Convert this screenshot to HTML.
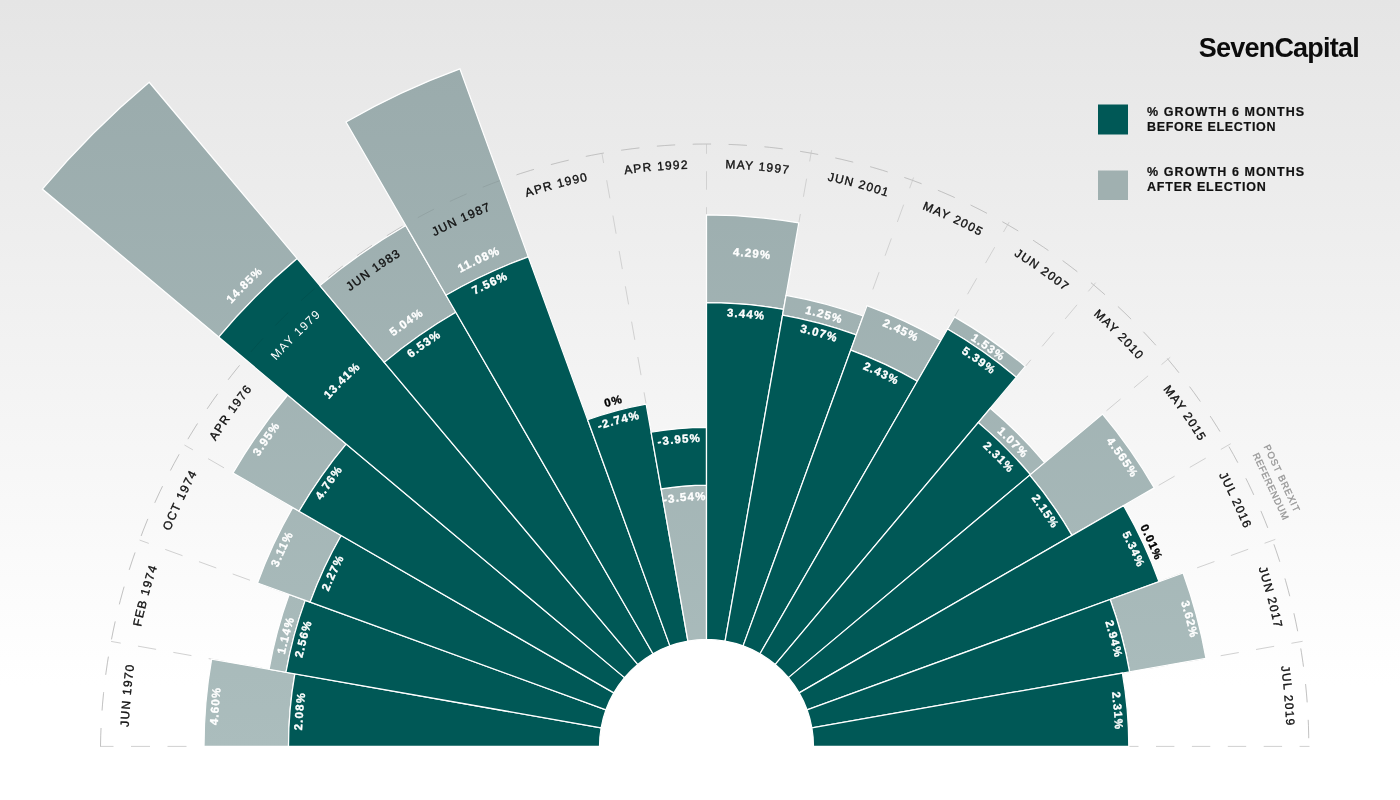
<!DOCTYPE html>
<html lang="en"><head><meta charset="utf-8"><title>SevenCapital - House price growth around elections</title>
<style>
html,body{margin:0;padding:0}
body{width:1400px;height:800px;overflow:hidden;background:#fff;font-family:"Liberation Sans",sans-serif}
.bg{position:absolute;left:0;top:0;width:1400px;height:800px;background:linear-gradient(to bottom,#e5e5e5 0px,#ffffff 685px)}
svg{position:absolute;left:0;top:0;display:block}
</style></head><body><div class="bg"></div>
<svg width="1400" height="800" viewBox="0 0 1400 800">
<defs><linearGradient id="gg" gradientUnits="userSpaceOnUse" x1="0" y1="60" x2="0" y2="750"><stop offset="0" stop-color="#9aabac"/><stop offset="1" stop-color="#abbdbd"/></linearGradient>
<path id="oa" d="M100.5 746.4 L100.73 735.83 L101.15 725.26 L101.75 714.71 L102.53 704.17 L103.5 693.64 L104.66 683.14 L105.99 672.67 L107.51 662.22 L109.21 651.8 L111.09 641.41 L113.14 631.06 L115.37 620.75 L117.78 610.48 L120.36 600.26 L123.13 590.09 L126.07 579.96 L129.19 569.9 L132.48 559.89 L135.95 549.94 L139.58 540.06 L143.32 530.21 L147.22 520.44 L151.3 510.73 L155.54 501.1 L159.95 491.54 L164.53 482.06 L169.27 472.67 L174.17 463.36 L179.24 454.13 L184.46 445 L189.81 435.94 L195.32 426.98 L200.98 418.11 L206.8 409.35 L212.76 400.68 L218.88 392.13 L225.15 383.68 L231.56 375.34 L238.12 367.11 L244.82 359 L251.66 351.01 L258.64 343.14 L265.75 335.4 L273 327.78 L280.38 320.28 L287.89 312.92 L295.53 305.69 L303.29 298.59 L311.18 291.63 L319.18 284.81 L327.3 278.13 L335.54 271.6 L343.89 265.2 L352.35 258.96 L360.92 252.86 L369.59 246.91 L378.37 241.12 L387.24 235.48 L396.21 230 L405.28 224.67 L414.44 219.5 L423.68 214.5 L433.01 209.65 L442.43 204.97 L451.92 200.46 L461.49 196.11 L471.14 191.93 L480.86 187.92 L490.64 184.07 L500.49 180.4 L510.41 176.91 L520.38 173.58 L530.41 170.43 L540.49 167.46 L550.62 164.66 L560.8 162.04 L571.03 159.6 L581.29 157.34 L591.59 155.25 L601.93 153.35 L612.29 151.59 L622.68 150.02 L633.1 148.63 L643.54 147.42 L654.01 146.39 L664.48 145.55 L674.98 144.89 L685.48 144.41 L695.99 144.11 L706.5 144 L717.01 144.09 L727.52 144.37 L738.03 144.83 L748.52 145.47 L759 146.3 L769.47 147.31 L779.91 148.5 L790.34 149.87 L800.73 151.43 L811.1 153.16 L821.44 155.08 L831.74 157.18 L842.01 159.45 L852.23 161.91 L862.41 164.54 L872.54 167.35 L882.62 170.34 L892.65 173.5 L902.62 176.84 L912.53 180.35 L922.37 184.03 L932.15 187.89 L941.87 191.91 L951.51 196.1 L961.07 200.47 L970.56 204.99 L979.97 209.68 L989.3 214.54 L998.53 219.56 L1007.68 224.74 L1016.74 230.07 L1025.7 235.57 L1034.57 241.22 L1043.34 247.02 L1052 252.97 L1060.56 259.08 L1069.01 265.33 L1077.35 271.74 L1085.58 278.28 L1093.69 284.97 L1101.68 291.8 L1109.55 298.76 L1117.3 305.87 L1124.93 313.1 L1132.43 320.47 L1139.79 327.97 L1147.03 335.6 L1154.13 343.35 L1161.1 351.23 L1167.92 359.22 L1174.61 367.33 L1181.15 375.56 L1187.55 383.9 L1193.8 392.35 L1199.91 400.91 L1205.86 409.58 L1211.66 418.34 L1217.31 427.21 L1222.8 436.17 L1228.14 445.23 L1233.31 454.38 L1238.33 463.62 L1243.18 472.95 L1247.87 482.36 L1252.39 491.85 L1256.75 501.41 L1260.94 511.05 L1264.97 520.77 L1268.82 530.55 L1272.5 540.39 L1276.01 550.3 L1279.34 560.27 L1282.5 570.3 L1285.49 580.38 L1288.29 590.51 L1290.92 600.69 L1293.38 610.91 L1295.65 621.17 L1297.75 631.47 L1299.66 641.81 L1301.39 652.18 L1302.95 662.57 L1304.32 673 L1305.51 683.44 L1306.51 693.91 L1307.34 704.39 L1307.98 714.88 L1308.44 725.38 L1308.71 735.89 L1308.8 746.4"/>
<path id="n0" d="M129.26 776.05 A578 578 0 0 1 143.45 615.79"/>
<path id="n1" d="M132.88 675.36 A578 578 0 0 1 174.68 520.01"/>
<path id="n2" d="M153.93 576.84 A578 578 0 0 1 222.08 431.1"/>
<path id="n3" d="M191.77 483.46 A578 578 0 0 1 284.19 351.77"/>
<path id="n4" d="M245.25 398.07 A578 578 0 0 1 359.13 284.43"/>
<path id="n5" d="M312.74 323.27 A578 578 0 0 1 444.63 231.13"/>
<path id="n6" d="M392.2 261.32 A578 578 0 0 1 538.08 193.48"/>
<path id="n7" d="M481.21 214.11 A578 578 0 0 1 636.66 172.64"/>
<path id="n8" d="M577.06 183.08 A578 578 0 0 1 737.35 169.22"/>
<path id="n9" d="M676.83 168.86 A578.3 578.3 0 0 1 837.17 183.06"/>
<path id="n10" d="M778.61 172.21 A578.7 578.7 0 0 1 934.09 214.33"/>
<path id="n11" d="M876.36 192.88 A579 579 0 0 1 1022.35 261.14"/>
<path id="n12" d="M970.92 230.97 A579.3 579.3 0 0 1 1102.75 323.82"/>
<path id="n13" d="M1055.73 283.95 A579.5 579.5 0 0 1 1169.67 398.13"/>
<path id="n14" d="M1131.56 352.22 A579.7 579.7 0 0 1 1223.74 484.65"/>
<path id="n15" d="M1193.17 431.07 A579.9 579.9 0 0 1 1261.24 577.43"/>
<path id="n16" d="M1241.3 521.67 A580.1 580.1 0 0 1 1282.53 677.79"/>
<path id="n17" d="M1271.87 616.49 A580.1 580.1 0 0 1 1285.77 777.36"/>
<path id="d0" d="M302.82 775.08 A404.7 404.7 0 0 1 313.71 648.93"/>
<path id="g0" d="M218.67 782.97 A489.2 489.2 0 0 1 231.24 630.43"/>
<path id="d1" d="M295.02 703.6 A413.7 413.7 0 0 1 328.38 578.54"/>
<path id="g1" d="M277.21 702.74 A431.5 431.5 0 0 1 311.72 572.22"/>
<path id="d2" d="M313.7 634.23 A408.5 408.5 0 0 1 367.59 518.34"/>
<path id="g2" d="M259.87 618.8 A464.5 464.5 0 0 1 321.16 487.03"/>
<path id="d3" d="M295.46 546.43 A457.1 457.1 0 0 1 377.38 429.2"/>
<path id="g3" d="M226.89 512.98 A533.4 533.4 0 0 1 322.49 376.19"/>
<path id="d4" d="M292.11 444.16 A512.9 512.9 0 0 1 405.79 330.9"/>
<path id="g4" d="M180.86 365.06 A649.4 649.4 0 0 1 324.43 221.29"/>
<path id="d5" d="M367.18 395.67 A488 488 0 0 1 492.17 307.99"/>
<path id="g5" d="M346.44 376.93 A515.9 515.9 0 0 1 478.23 283.75"/>
<path id="d6" d="M422.22 325.75 A507.7 507.7 0 0 1 566.13 258.49"/>
<path id="g6" d="M407.57 304.03 A533.9 533.9 0 0 1 558.9 233.31"/>
<path id="d7" d="M570.12 441.19 A334.3 334.3 0 0 1 671.11 413.98"/>
<path id="g7" d="M562.14 423.28 A353.9 353.9 0 0 1 669.06 394.49"/>
<path id="d8" d="M632.37 450.96 A304.6 304.6 0 0 1 727.3 442.51"/>
<path id="g8" d="M626.33 513.41 A246.4 246.4 0 0 1 745.09 503.04"/>
<path id="d9" d="M678.32 316.92 A430.4 430.4 0 0 1 812.42 329.24"/>
<path id="g9" d="M674.77 256.13 A491.3 491.3 0 0 1 827.83 270.32"/>
<path id="d10" d="M752.73 324.22 A424.7 424.7 0 0 1 880.93 359.17"/>
<path id="g10" d="M754.74 305.13 A443.9 443.9 0 0 1 888.74 341.63"/>
<path id="d11" d="M819.89 354.06 A408.4 408.4 0 0 1 935.58 408.3"/>
<path id="g11" d="M832.44 308.45 A455.7 455.7 0 0 1 961.61 368.8"/>
<path id="d12" d="M913.63 325.95 A468.7 468.7 0 0 1 1033.41 410.53"/>
<path id="g12" d="M920.73 311.39 A484.9 484.9 0 0 1 1044.67 398.88"/>
<path id="d13" d="M947.84 418.05 A407.5 407.5 0 0 1 1037.49 508.7"/>
<path id="g13" d="M959.54 401.27 A427.95 427.95 0 0 1 1053.8 496.36"/>
<path id="d14" d="M1001.78 463.83 A408.7 408.7 0 0 1 1074.64 568.9"/>
<path id="g14" d="M1069.47 398.46 A502.8 502.8 0 0 1 1159.22 527.65"/>
<path id="d15" d="M1094.53 486.9 A466.8 466.8 0 0 1 1155.72 619.51"/>
<path id="g15" d="M1111.03 477.22 A485.9 485.9 0 0 1 1174.41 615.4"/>
<path id="d16" d="M1088.84 578.2 A417.7 417.7 0 0 1 1122.1 704.58"/>
<path id="g16" d="M1160.48 546.85 A495.9 495.9 0 0 1 1199.92 696.9"/>
<path id="d17" d="M1103.48 647.99 A409 409 0 0 1 1114.46 775.48"/>
</defs>
<path d="M103.5 746.4 A603 603 0 0 1 1309.5 746.4 L813.5 746.4 A107.0 107.0 0 0 0 599.5 746.4 Z" fill="#fff" fill-opacity="0.03"/>
<path d="M599.5 746.4 A107.0 107.0 0 0 1 813.5 746.4 Z" fill="#fff"/>
<g fill="none" stroke="#d1d1d1" stroke-width="1" stroke-dasharray="18.4 17.5">
<use href="#oa"/>
<path d="M111.09 641.41 L601.13 727.82" stroke-dashoffset="8.6"/>
<path d="M139.58 540.06 L605.95 709.8" stroke-dashoffset="8.6"/>
<path d="M184.46 445 L613.84 692.9" stroke-dashoffset="8.6"/>
<path d="M244.82 359 L624.53 677.62" stroke-dashoffset="8.6"/>
<path d="M319.18 284.81 L637.72 664.43" stroke-dashoffset="8.6"/>
<path d="M405.28 224.67 L653 653.74" stroke-dashoffset="8.6"/>
<path d="M500.49 180.4 L669.9 645.85" stroke-dashoffset="8.6"/>
<path d="M601.93 153.35 L687.92 641.03" stroke-dashoffset="8.6"/>
<path d="M706.5 144 L706.5 639.4" stroke-dashoffset="8.6"/>
<path d="M811.62 150.21 L725.08 641.03" stroke-dashoffset="7"/>
<path d="M913.55 177.53 L743.1 645.85" stroke-dashoffset="7"/>
<path d="M1009.18 222.14 L760 653.74" stroke-dashoffset="7"/>
<path d="M1095.62 282.67 L775.28 664.43" stroke-dashoffset="7"/>
<path d="M1170.22 357.29 L788.47 677.62" stroke-dashoffset="7"/>
<path d="M1230.73 443.73 L799.16 692.9" stroke-dashoffset="7"/>
<path d="M1275.32 539.37 L807.05 709.8" stroke-dashoffset="7"/>
<path d="M1302.62 641.29 L811.87 727.82" stroke-dashoffset="7"/>
<path d="M1309.5 746.4 H1100" stroke-dashoffset="8.5"/>
<path d="M100 746.4 H230" stroke-dasharray="19 17.5" stroke-dashoffset="5.5"/>
</g>
<g stroke="#fff" stroke-width="1.25" stroke-linejoin="miter">
<path d="M288.5 746.4 L204 746.4 A502.5 502.5 0 0 1 211.63 659.14 L294.85 673.82 A418 418 0 0 0 288.5 746.4 Z" fill="url(#gg)"/>
<path d="M599.5 746.4 L288.5 746.4 A418 418 0 0 1 294.85 673.82 L601.13 727.82 A107 107 0 0 0 599.5 746.4 Z" fill="#005856"/>
<path d="M285.99 672.25 L269.05 669.27 A444.2 444.2 0 0 1 289.09 594.47 L305.25 600.36 A427 427 0 0 0 285.99 672.25 Z" fill="url(#gg)"/>
<path d="M601.13 727.82 L285.99 672.25 A427 427 0 0 1 305.25 600.36 L605.95 709.8 A107 107 0 0 0 601.13 727.82 Z" fill="#005856"/>
<path d="M310.14 602.14 L257.51 582.98 A477.8 477.8 0 0 1 292.71 507.5 L341.21 535.5 A421.8 421.8 0 0 0 310.14 602.14 Z" fill="url(#gg)"/>
<path d="M605.95 709.8 L310.14 602.14 A421.8 421.8 0 0 1 341.21 535.5 L613.84 692.9 A107 107 0 0 0 605.95 709.8 Z" fill="#005856"/>
<path d="M299.12 511.2 L233.04 473.05 A546.7 546.7 0 0 1 287.7 394.99 L346.15 444.03 A470.4 470.4 0 0 0 299.12 511.2 Z" fill="url(#gg)"/>
<path d="M613.84 692.9 L299.12 511.2 A470.4 470.4 0 0 1 346.15 444.03 L624.53 677.62 A107 107 0 0 0 613.84 692.9 Z" fill="#005856"/>
<path d="M218.68 337.07 L42.34 189.1 A867 867 0 0 1 149.2 82.24 L297.17 258.58 A636.8 636.8 0 0 0 218.68 337.07 Z" fill="url(#gg)"/>
<path d="M624.53 677.62 L218.68 337.07 A636.8 636.8 0 0 1 297.17 258.58 L637.72 664.43 A107 107 0 0 0 624.53 677.62 Z" fill="#005856"/>
<path d="M384.27 362.38 L319.86 285.62 A601.5 601.5 0 0 1 405.75 225.49 L455.85 312.26 A501.3 501.3 0 0 0 384.27 362.38 Z" fill="url(#gg)"/>
<path d="M637.72 664.43 L384.27 362.38 A501.3 501.3 0 0 1 455.85 312.26 L653 653.74 A107 107 0 0 0 637.72 664.43 Z" fill="#005856"/>
<path d="M446 295.2 L346 122 A721 721 0 0 1 459.9 68.88 L528.31 256.82 A521 521 0 0 0 446 295.2 Z" fill="url(#gg)"/>
<path d="M653 653.74 L446 295.2 A521 521 0 0 1 528.31 256.82 L669.9 645.85 A107 107 0 0 0 653 653.74 Z" fill="#005856"/>
<path d="M669.9 645.85 L587.61 419.76 A347.6 347.6 0 0 1 646.14 404.08 L687.92 641.03 A107 107 0 0 0 669.9 645.85 Z" fill="#005856"/>
<path d="M687.92 641.03 L661.11 488.97 A261.4 261.4 0 0 1 706.5 485 L706.5 639.4 A107 107 0 0 0 687.92 641.03 Z" fill="url(#gg)"/>
<path d="M661.11 488.97 L651.11 432.25 A319 319 0 0 1 706.5 427.4 L706.5 485 A261.4 261.4 0 0 0 661.11 488.97 Z" fill="#005856"/>
<path d="M706.5 302.7 L706.5 214.9 A531.5 531.5 0 0 1 798.79 222.97 L783.55 309.44 A443.7 443.7 0 0 0 706.5 302.7 Z" fill="url(#gg)"/>
<path d="M706.5 639.4 L706.5 302.7 A443.7 443.7 0 0 1 783.55 309.44 L725.08 641.03 A107 107 0 0 0 706.5 639.4 Z" fill="#005856"/>
<path d="M782.56 315.05 L786.03 295.36 A458 458 0 0 1 863.15 316.02 L856.3 334.81 A438 438 0 0 0 782.56 315.05 Z" fill="url(#gg)"/>
<path d="M725.08 641.03 L782.56 315.05 A438 438 0 0 1 856.3 334.81 L743.1 645.85 A107 107 0 0 0 725.08 641.03 Z" fill="#005856"/>
<path d="M850.73 350.13 L866.91 305.68 A469 469 0 0 1 941 340.23 L917.35 381.2 A421.7 421.7 0 0 0 850.73 350.13 Z" fill="url(#gg)"/>
<path d="M743.1 645.85 L850.73 350.13 A421.7 421.7 0 0 1 917.35 381.2 L760 653.74 A107 107 0 0 0 743.1 645.85 Z" fill="#005856"/>
<path d="M947.5 328.98 L954.5 316.85 A496 496 0 0 1 1025.32 366.44 L1016.32 377.17 A482 482 0 0 0 947.5 328.98 Z" fill="url(#gg)"/>
<path d="M760 653.74 L947.5 328.98 A482 482 0 0 1 1016.32 377.17 L775.28 664.43 A107 107 0 0 0 760 653.74 Z" fill="#005856"/>
<path d="M978.21 422.59 L990.23 408.27 A441.4 441.4 0 0 1 1044.63 462.67 L1030.31 474.69 A422.7 422.7 0 0 0 978.21 422.59 Z" fill="url(#gg)"/>
<path d="M775.28 664.43 L978.21 422.59 A422.7 422.7 0 0 1 1030.31 474.69 L788.47 677.62 A107 107 0 0 0 775.28 664.43 Z" fill="#005856"/>
<path d="M1029.77 475.14 L1102.54 414.08 A517 517 0 0 1 1154.24 487.9 L1071.96 535.4 A422 422 0 0 0 1029.77 475.14 Z" fill="url(#gg)"/>
<path d="M788.47 677.62 L1029.77 475.14 A422 422 0 0 1 1071.96 535.4 L799.16 692.9 A107 107 0 0 0 788.47 677.62 Z" fill="#005856"/>
<path d="M799.16 692.9 L1123.58 505.6 A481.6 481.6 0 0 1 1159.06 581.68 L807.05 709.8 A107 107 0 0 0 799.16 692.9 Z" fill="#005856"/>
<path d="M1110.19 599.47 L1183.11 572.93 A507.2 507.2 0 0 1 1205.99 658.33 L1129.57 671.8 A429.6 429.6 0 0 0 1110.19 599.47 Z" fill="url(#gg)"/>
<path d="M807.05 709.8 L1110.19 599.47 A429.6 429.6 0 0 1 1129.57 671.8 L811.87 727.82 A107 107 0 0 0 807.05 709.8 Z" fill="#005856"/>
<path d="M811.87 727.82 L1122.38 673.07 A422.3 422.3 0 0 1 1128.8 746.4 L813.5 746.4 A107 107 0 0 0 811.87 727.82 Z" fill="#005856"/>
</g>
<use href="#oa" fill="none" stroke="#000" stroke-opacity="0.07" stroke-width="1" stroke-dasharray="18.4 17.5"/>
<g font-family="'Liberation Sans', sans-serif" font-size="12" letter-spacing="1.2" text-anchor="middle" fill="#111" stroke="#111" stroke-width="0.36">
<text><textPath href="#n0" startOffset="50%">JUN 1970</textPath></text>
<text><textPath href="#n1" startOffset="50%">FEB 1974</textPath></text>
<text><textPath href="#n2" startOffset="50%">OCT 1974</textPath></text>
<text><textPath href="#n3" startOffset="50%">APR 1976</textPath></text>
<text fill="#fff" stroke="none"><textPath href="#n4" startOffset="50%">MAY 1979</textPath></text>
<text><textPath href="#n5" startOffset="50%">JUN 1983</textPath></text>
<text><textPath href="#n6" startOffset="50%">JUN 1987</textPath></text>
<text><textPath href="#n7" startOffset="50%">APR 1990</textPath></text>
<text><textPath href="#n8" startOffset="50%">APR 1992</textPath></text>
<text><textPath href="#n9" startOffset="50%">MAY 1997</textPath></text>
<text><textPath href="#n10" startOffset="50%">JUN 2001</textPath></text>
<text><textPath href="#n11" startOffset="50%">MAY 2005</textPath></text>
<text><textPath href="#n12" startOffset="50%">JUN 2007</textPath></text>
<text><textPath href="#n13" startOffset="50%">MAY 2010</textPath></text>
<text><textPath href="#n14" startOffset="50%">MAY 2015</textPath></text>
<text><textPath href="#n15" startOffset="50%">JUL 2016</textPath></text>
<text><textPath href="#n16" startOffset="50%">JUN 2017</textPath></text>
<text><textPath href="#n17" startOffset="50%">JUL 2019</textPath></text>
</g>
<g font-family="'Liberation Sans', sans-serif" font-size="11.5" font-weight="bold" letter-spacing="1.1" text-anchor="middle" fill="#fff" stroke="#fff" stroke-width="0.35">
<text><textPath href="#d0" startOffset="50%">2.08%</textPath></text>
<text><textPath href="#g0" startOffset="50%">4.60%</textPath></text>
<text><textPath href="#d1" startOffset="50%">2.56%</textPath></text>
<text><textPath href="#g1" startOffset="50%">1.14%</textPath></text>
<text><textPath href="#d2" startOffset="50%">2.27%</textPath></text>
<text><textPath href="#g2" startOffset="50%">3.11%</textPath></text>
<text><textPath href="#d3" startOffset="50%">4.76%</textPath></text>
<text><textPath href="#g3" startOffset="50%">3.95%</textPath></text>
<text><textPath href="#d4" startOffset="50%">13.41%</textPath></text>
<text><textPath href="#g4" startOffset="50%">14.85%</textPath></text>
<text><textPath href="#d5" startOffset="50%">6.53%</textPath></text>
<text><textPath href="#g5" startOffset="50%">5.04%</textPath></text>
<text><textPath href="#d6" startOffset="50%">7.56%</textPath></text>
<text><textPath href="#g6" startOffset="50%">11.08%</textPath></text>
<text><textPath href="#d7" startOffset="50%">-2.74%</textPath></text>
<text fill="#000" stroke="#000"><textPath href="#g7" startOffset="50%">0%</textPath></text>
<text><textPath href="#d8" startOffset="50%">-3.95%</textPath></text>
<text><textPath href="#g8" startOffset="50%">-3.54%</textPath></text>
<text><textPath href="#d9" startOffset="50%">3.44%</textPath></text>
<text><textPath href="#g9" startOffset="50%">4.29%</textPath></text>
<text><textPath href="#d10" startOffset="50%">3.07%</textPath></text>
<text><textPath href="#g10" startOffset="50%">1.25%</textPath></text>
<text><textPath href="#d11" startOffset="50%">2.43%</textPath></text>
<text><textPath href="#g11" startOffset="50%">2.45%</textPath></text>
<text><textPath href="#d12" startOffset="50%">5.39%</textPath></text>
<text><textPath href="#g12" startOffset="50%">1.53%</textPath></text>
<text><textPath href="#d13" startOffset="50%">2.31%</textPath></text>
<text><textPath href="#g13" startOffset="50%">1.07%</textPath></text>
<text><textPath href="#d14" startOffset="50%">2.15%</textPath></text>
<text><textPath href="#g14" startOffset="50%">4.565%</textPath></text>
<text><textPath href="#d15" startOffset="50%">5.34%</textPath></text>
<text fill="#000" stroke="#000"><textPath href="#g15" startOffset="50%">0.01%</textPath></text>
<text><textPath href="#d16" startOffset="50%">2.94%</textPath></text>
<text><textPath href="#g16" startOffset="50%">3.62%</textPath></text>
<text><textPath href="#d17" startOffset="50%">2.31%</textPath></text>
</g>
<text transform="translate(1282.01 478.04) rotate(65)" x="0.5" y="3.4" font-family="'Liberation Sans', sans-serif" font-size="9.5" letter-spacing="1" text-anchor="middle" fill="#969696" stroke="#969696" stroke-width="0.3">POST BREXIT</text>
<text transform="translate(1269.77 483.74) rotate(65)" x="3.0" y="3.4" font-family="'Liberation Sans', sans-serif" font-size="9.5" letter-spacing="0.6" text-anchor="middle" fill="#969696" stroke="#969696" stroke-width="0.3">REFERENDUM</text>
<rect x="1098" y="104.5" width="30" height="30" fill="#005856"/>
<rect x="1098" y="170.5" width="30" height="29.5" fill="#a0b0b0"/>
<g font-family="'Liberation Sans', sans-serif" font-size="12.5" font-weight="bold" letter-spacing="1.1" fill="#111" stroke="#111" stroke-width="0.2">
<text x="1147" y="116.1">% GROWTH 6 MONTHS</text><text x="1147" y="131.4" letter-spacing="0.7">BEFORE ELECTION</text>
<text x="1147" y="176.3">% GROWTH 6 MONTHS</text><text x="1147" y="191.3" letter-spacing="0.8">AFTER ELECTION</text>
</g>
<text x="1198.7" y="57" font-family="'Liberation Sans', sans-serif" font-size="27" font-weight="bold" letter-spacing="-0.77" fill="#0c0c0c">SevenCapital</text>
</svg>
</body></html>
